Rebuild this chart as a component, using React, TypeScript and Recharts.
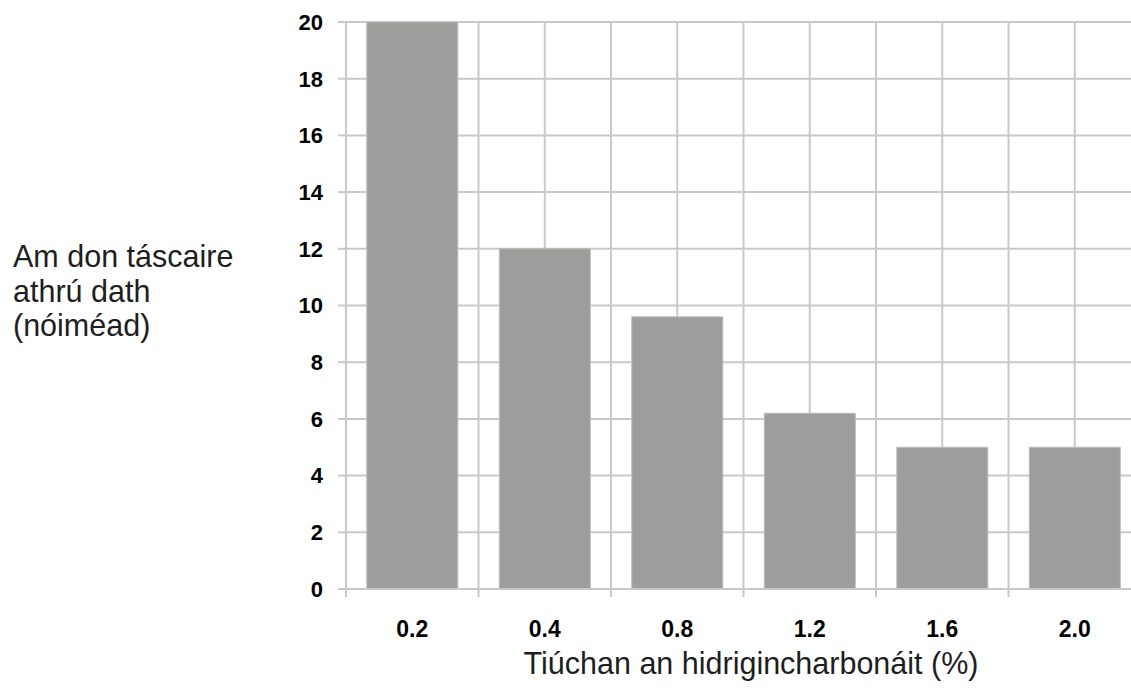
import React from 'react';
import { BarChart, Bar, XAxis, YAxis, CartesianGrid } from 'recharts';

// data
const concentrations = ['0.2', '0.4', '0.8', '1.2', '1.6', '2.0'];
const minutes = [20, 12, 9.6, 6.2, 5, 5];
const yTicks = [0, 2, 4, 6, 8, 10, 12, 14, 16, 18, 20];
const yTitleLines = ['Am don táscaire', 'athrú dath', '(nóiméad)'];
const xTitle = 'Tiúchan an hidrigincharbonáit (%)';

const data = concentrations.map((c, i) => ({ name: c, value: minutes[i] }));

const W = 1150;
const H = 696;
const GRID = '#c9c9c9';
const BAR_FILL = '#9d9d9c';
const TICK_FONT = '"Liberation Sans", Arial, Helvetica, sans-serif';
const TITLE_FONT = '"Liberation Sans", Arial, sans-serif';
const X_TICK_SIZE = 8;
const X_TICK_MARGIN = 24;

function XTick(props: any) {
  const { x, y, payload, width, visibleTicksCount } = props;
  const half = width / (visibleTicksCount || concentrations.length) / 2;
  const axisY = y - X_TICK_SIZE - X_TICK_MARGIN;
  return (
    <g>
      <line x1={x - half} x2={x - half} y1={axisY} y2={axisY + X_TICK_SIZE} stroke={GRID} strokeWidth={2} />
      <text x={x} y={y} dy="0.71em" textAnchor="middle" fill="#000" fontSize={23} fontWeight={700} fontFamily={TICK_FONT}>
        {payload.value}
      </text>
    </g>
  );
}

function YTitle(props: any) {
  const vb = props.viewBox || { x: 0, y: 22, width: 346, height: 567 };
  const cy = vb.y + vb.height / 2;
  return (
    <text x={vb.x + 13} y={cy - 38.8} fill="#1e1e1e" fontSize={30.5} fontFamily={TITLE_FONT}>
      {yTitleLines.map((line, i) => (
        <tspan key={i} x={vb.x + 13} y={cy - 38.8 + i * 34.8}>{line}</tspan>
      ))}
    </text>
  );
}

function XTitle(props: any) {
  const vb = props.viewBox || { x: 346, y: 589, width: 795, height: 107 };
  return (
    <text x={751} y={vb.y + 85} textAnchor="middle" fill="#1e1e1e" fontSize={30.5} fontFamily={TITLE_FONT}>
      {xTitle}
    </text>
  );
}

export default function App() {
  return (
    <div style={{ position: 'fixed', left: 0, top: 0, width: 1131, height: 696, overflow: 'hidden', background: '#fff' }}>
      <BarChart width={W} height={H} data={data} margin={{ top: 22, right: 9, bottom: 0, left: 0 }} barCategoryGap="15.7%">
        <CartesianGrid
          stroke={GRID}
          strokeWidth={2}
          verticalCoordinatesGenerator={({ offset }: any) =>
            Array.from({ length: concentrations.length * 2 + 1 }, (_, k) => offset.left + (k * offset.width) / (concentrations.length * 2))
          }
        />
        <XAxis
          dataKey="name"
          height={107}
          axisLine={{ stroke: GRID, strokeWidth: 2 }}
          tickLine={false}
          tickSize={X_TICK_SIZE}
          tickMargin={X_TICK_MARGIN}
          tick={<XTick />}
          interval={0}
          label={<XTitle />}
        />
        <YAxis
          width={346}
          domain={[0, 20]}
          ticks={yTicks}
          interval={0}
          axisLine={{ stroke: GRID, strokeWidth: 2 }}
          tickLine={{ stroke: GRID, strokeWidth: 2 }}
          tickSize={8}
          tickMargin={15}
          tick={{ fill: '#000', fontSize: 22, fontWeight: 700, fontFamily: TICK_FONT }}
          label={<YTitle />}
        />
        <Bar dataKey="value" fill={BAR_FILL} stroke="#bdbdbd" strokeWidth={1} isAnimationActive={false} />
      </BarChart>
    </div>
  );
}
